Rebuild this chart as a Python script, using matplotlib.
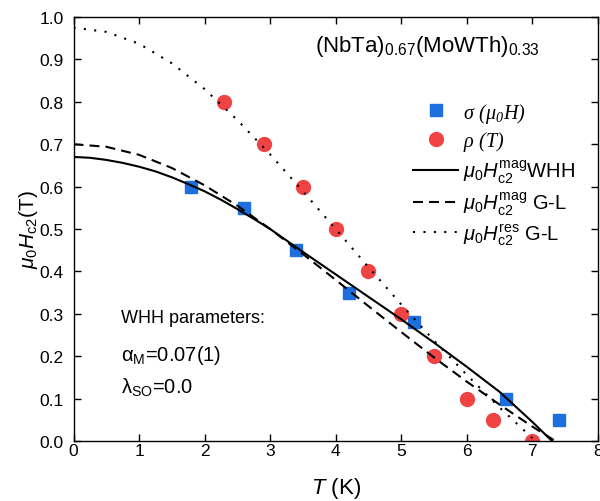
import matplotlib
matplotlib.use('Agg')
import matplotlib.pyplot as plt

plt.rcParams['font.family'] = ['Liberation Sans', 'DejaVu Sans']
plt.rcParams['mathtext.fontset'] = 'custom'
plt.rcParams['mathtext.rm'] = 'Liberation Sans'
plt.rcParams['mathtext.it'] = 'Liberation Sans:italic'
plt.rcParams['mathtext.sf'] = 'Liberation Serif:italic'

# measured points
T_sigma = [1.8, 2.6, 3.4, 4.2, 5.2, 6.6, 7.4]
H_sigma = [0.60, 0.55, 0.45, 0.35, 0.28, 0.10, 0.05]

T_rho = [2.3, 2.9, 3.5, 4.0, 4.5, 5.0, 5.5, 6.0, 6.4, 7.0]
H_rho = [0.80, 0.70, 0.60, 0.50, 0.40, 0.30, 0.20, 0.10, 0.05, 0.0]

# fitted curves
T_whh = [0, 0.25, 0.5, 0.75, 1.0, 1.25, 1.5, 1.75, 2.0, 2.25, 2.5, 2.75, 3.0,
         3.5, 4.0, 4.5, 5.0, 5.5, 6.0, 6.5, 7.0, 7.3]
H_whh = [0.670, 0.668, 0.663, 0.656, 0.647, 0.636, 0.622, 0.606, 0.589, 0.569,
         0.547, 0.524, 0.500, 0.446, 0.393, 0.340, 0.287, 0.232, 0.175, 0.116,
         0.045, 0.0]

T_gl_mag = [0, 0.5, 1.0, 1.5, 2.0, 2.5, 3.0, 3.5, 4.0, 4.5, 5.0, 5.5, 6.0, 6.5, 7.0, 7.35]
H_gl_mag = [0.700, 0.694, 0.675, 0.644, 0.603, 0.555, 0.500, 0.441, 0.380, 0.318,
            0.257, 0.197, 0.140, 0.086, 0.034, 0.0]

T_gl_res = [0, 0.5, 1.0, 1.5, 2.0, 2.5, 3.0, 3.5, 4.0, 4.5, 5.0, 5.5, 6.0, 6.5, 7.0, 7.05]
H_gl_res = [0.975, 0.965, 0.937, 0.891, 0.830, 0.757, 0.676, 0.589, 0.500, 0.410,
            0.322, 0.237, 0.156, 0.079, 0.007, 0.0]

x_ticks = [0, 1, 2, 3, 4, 5, 6, 7, 8]
y_ticks = [0.0, 0.1, 0.2, 0.3, 0.4, 0.5, 0.6, 0.7, 0.8, 0.9, 1.0]

blue = '#1c6fdc'
red = '#f04343'

fig = plt.figure(figsize=(6.0, 5.02), dpi=100)
ax = fig.add_axes([0.1225, 0.1195, 0.874, 0.8446])

ax.plot(T_sigma, H_sigma, 's', color=blue, ms=8.5, label=r'$\mathsf{\sigma\ (\mu_0H)}$')
ax.plot(T_rho, H_rho, 'o', color=red, ms=10, label=r'$\mathsf{\rho\ (T)}$')
ax.plot(T_whh, H_whh, '-', color='black', lw=1.5,
        label=r'$\mu_0H_{\rm c2}^{\rm mag}$WHH')
ax.plot(T_gl_mag, H_gl_mag, color='black', lw=1.5, linestyle=(0, (4.8, 2.9)),
        label=r'$\mu_0H_{\rm c2}^{\rm mag}$ G-L')
ax.plot(T_gl_res, H_gl_res, color='black', lw=1.5, linestyle=(0, (1, 4)),
        label=r'$\mu_0H_{\rm c2}^{\rm res}$ G-L')

ax.set_xlim(0, 8)
ax.set_ylim(0, 1.0)
ax.set_xticks(x_ticks)
ax.set_yticks(y_ticks)
ax.tick_params(direction='in', top=True, right=True, length=5, width=1, labelsize=12.5)
ax.tick_params(axis='x', pad=1.5)
ax.tick_params(axis='y', pad=7)
for s in ax.spines.values():
    s.set_linewidth(1)

ax.set_xlabel(r'$T$ (K)', fontsize=16, labelpad=12)
ax.set_ylabel(r'$\mu_0H_{\rm c2}$(T)', fontsize=15)
ax.yaxis.set_label_coords(-0.064, 0.5)

ax.text(3.69, 0.932, r'(NbTa)$_{0.67}$(MoWTh)$_{0.33}$', fontsize=16, va='center')
ax.text(0.72, 0.292, 'WHH parameters:', fontsize=13, va='center')
ax.text(0.72, 0.205, r'$\mathrm{\alpha_M}$=0.07(1)', fontsize=14.5, va='center')
ax.text(0.72, 0.128, r'$\mathrm{\lambda_{SO}}$=0.0', fontsize=14.5, va='center')

ax.legend(loc='upper left', bbox_to_anchor=(0.648, 0.803), frameon=False,
          fontsize=14.5, handlelength=2.23, handletextpad=0.25, labelspacing=0.22,
          borderpad=0, borderaxespad=0)

fig.savefig('out.png', dpi=100)
